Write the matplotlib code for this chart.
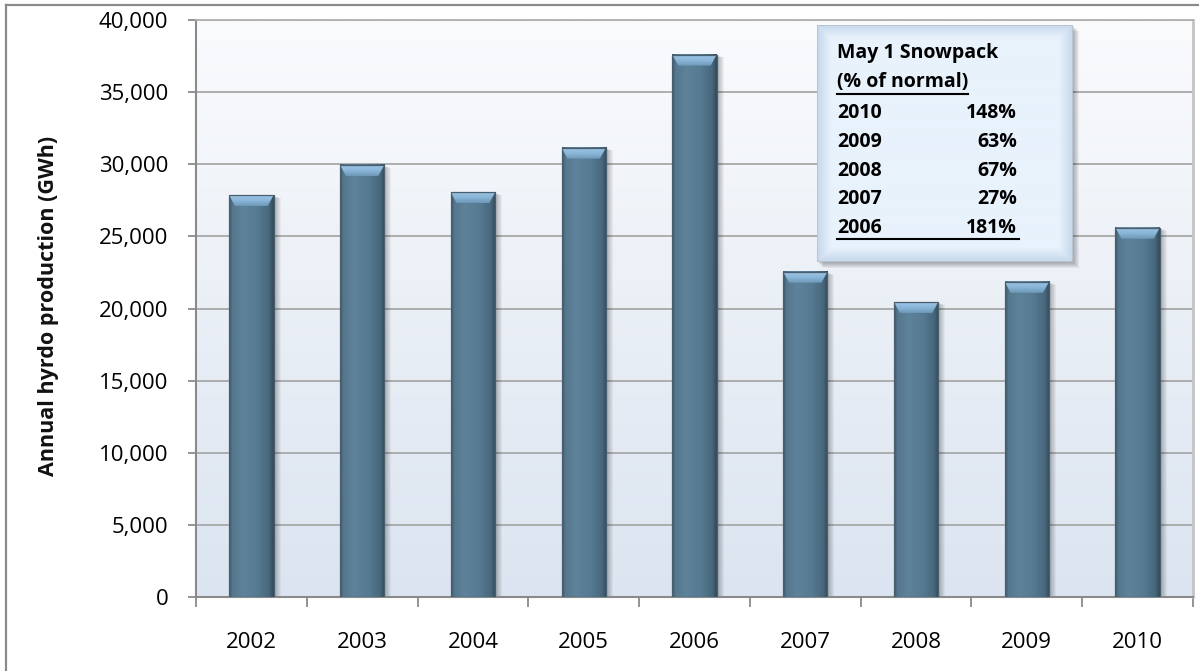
import numpy as np
import matplotlib
matplotlib.use("Agg")
import matplotlib.pyplot as plt
import matplotlib.transforms as mtransforms
from matplotlib.colors import LinearSegmentedColormap
from matplotlib.lines import Line2D
from matplotlib.patches import Rectangle, Polygon
import matplotlib.ticker as mticker

# ---------------------------------------------------------------------------
# Data
# ---------------------------------------------------------------------------
YEARS = ["2002", "2003", "2004", "2005", "2006", "2007", "2008", "2009", "2010"]
PRODUCTION_GWH = [27850, 29950, 28050, 31150, 37600, 22550, 20450, 21850, 25600]

SNOW_TITLE = "May 1 Snowpack"
SNOW_SUBTITLE = "(% of normal)"
SNOW_YEARS = ["2010", "2009", "2008", "2007", "2006"]
SNOW_PCT = ["148%", "63%", "67%", "27%", "181%"]

Y_LABEL = "Annual hyrdo production (GWh)"
FONT = ["Open Sans", "DejaVu Sans"]

# ---------------------------------------------------------------------------
# Figure (pixel-based helpers)
# ---------------------------------------------------------------------------
W, H = 1199, 671
fig = plt.figure(figsize=(W / 100, H / 100), dpi=100)
fig.patch.set_facecolor("white")
plt.rcParams["font.family"] = FONT


def fx(x):
    return x / W


def fy(y):
    return 1 - y / H


# outer chart frame (top and left edges)
for xs, ys in (((6, W), (5, 5)), ((6, 6), (5, H))):
    fig.add_artist(Line2D([fx(v) for v in xs], [fy(v) for v in ys],
                          transform=fig.transFigure, color="#8a8a8a", lw=1.6))

ax = fig.add_axes([fx(196), fy(597), fx(1193) - fx(196), (597 - 20) / H])

# plot-area background: white at top fading to pale blue at the bottom
bg = LinearSegmentedColormap.from_list("bg", ["#dbe4f0", "#fafbfd"])
ax.imshow(np.linspace(0, 1, 256).reshape(-1, 1), cmap=bg, origin="lower",
          extent=[0, 1, 0, 1], transform=ax.transAxes, aspect="auto", zorder=0)

ax.set_xlim(-0.5, len(YEARS) - 0.5)
ax.set_ylim(0, 40000)

ax.yaxis.set_major_locator(mticker.MultipleLocator(5000))
ax.yaxis.set_major_formatter(mticker.StrMethodFormatter("{x:,.0f}"))
ax.yaxis.grid(True, color="#a8a8a8", lw=1.3)
ax.set_axisbelow(True)

ax.set_xticks(np.arange(-0.5, len(YEARS)))
ax.set_xticklabels([])
ax.set_xticks(range(len(YEARS)), minor=True)
ax.set_xticklabels(YEARS, minor=True)

ax.tick_params(axis="y", direction="out", length=6, width=1.3,
               color="#8a8a8a", pad=14, labelsize=16)
ax.tick_params(axis="x", which="major", direction="out", length=7,
               width=1.3, color="#8a8a8a")
ax.tick_params(axis="x", which="minor", length=0, pad=25, labelsize=16)

for side in ("left", "bottom"):
    ax.spines[side].set_color("#8a8a8a")
    ax.spines[side].set_linewidth(1.5)
ax.spines["top"].set_color("#b0b0b0")
ax.spines["top"].set_linewidth(1.3)
ax.spines["right"].set_color("#c4c4c4")
ax.spines["right"].set_linewidth(2)

# ---------------------------------------------------------------------------
# Bars with shading, bevel and soft shadow
# ---------------------------------------------------------------------------
bars = ax.bar(range(len(YEARS)), PRODUCTION_GWH, width=0.4,
              color="none", edgecolor="none", zorder=3)

bar_cmap = LinearSegmentedColormap.from_list(
    "bar", [(0.0, "#3d566a"), (0.07, "#56788f"), (0.3, "#5d8299"),
            (0.65, "#557a91"), (0.9, "#48677c"), (1.0, "#344a5a")])
shade = np.linspace(0, 1, 64).reshape(1, -1)
bevel_cmap = LinearSegmentedColormap.from_list(
    "bevel", ["#6e98b6", "#8ab6d9", "#9cc4e4"])

px_x = (len(YEARS)) / (1193 - 196)      # data units per pixel, x
px_y = 40000 / (597 - 20)               # data units per pixel, y

for p in bars:
    x0, w, h = p.get_x(), p.get_width(), p.get_height()

    for k in range(1, 8):
        off = mtransforms.ScaledTranslation(k / 100, -k * 0.4 / 100,
                                            fig.dpi_scale_trans)
        ax.add_patch(Rectangle((x0, 0), w, h, facecolor="black",
                               alpha=0.045, edgecolor="none",
                               transform=ax.transData + off, zorder=2))

    ax.imshow(shade, cmap=bar_cmap, extent=[x0, x0 + w, 0, h],
              aspect="auto", zorder=3)

    # bevelled top face, lighter towards the top edge
    bev = 11 * px_y
    ins = 6 * px_x
    face = Polygon([(x0, h), (x0 + w, h), (x0 + w - ins, h - bev),
                    (x0 + ins, h - bev)], closed=True,
                   facecolor="none", edgecolor="none", zorder=4)
    ax.add_patch(face)
    im = ax.imshow(np.linspace(0, 1, 32).reshape(-1, 1), cmap=bevel_cmap,
                   origin="lower", extent=[x0, x0 + w, h - bev, h],
                   aspect="auto", zorder=4)
    im.set_clip_path(face)
    ax.add_patch(Rectangle((x0, 0), w, h, facecolor="none",
                           edgecolor="#4a5f6e", lw=0.9, zorder=5))

ax.set_xlim(-0.5, len(YEARS) - 0.5)
ax.set_ylim(0, 40000)

fig.text(fx(49), fy(306), Y_LABEL, rotation=90, ha="center", va="center",
         fontsize=15.5, fontweight="bold", color="#111111")

# ---------------------------------------------------------------------------
# Snowpack inset box
# ---------------------------------------------------------------------------
bx0, by0, bx1, by1 = 817, 25, 1073, 262

for k in range(1, 7):
    fig.add_artist(Rectangle((fx(bx0 + k), fy(by1 + k)), (bx1 - bx0) / W,
                             (by1 - by0) / H, transform=fig.transFigure,
                             facecolor="black", alpha=0.05, edgecolor="none",
                             zorder=1))

bax = fig.add_axes([fx(bx0), fy(by1), (bx1 - bx0) / W, (by1 - by0) / H],
                   zorder=5)
bax.set_axis_off()
gx = np.linspace(0, 1, 256)
gy = np.linspace(0, 1, 240)
dx = np.minimum(gx, 1 - gx) * (bx1 - bx0)
dy = np.minimum(gy, 1 - gy) * (by1 - by0)
dist = np.minimum(dx[None, :], dy[:, None])
box_val = np.clip(dist / 14, 0, 1)
box_cmap = LinearSegmentedColormap.from_list("box", ["#c6d8ec", "#e8f2fc"])
bax.imshow(box_val, cmap=box_cmap, extent=[0, 1, 0, 1], aspect="auto")
bax.add_patch(Rectangle((0, 0), 1, 1, transform=bax.transAxes,
                        facecolor="none", edgecolor="#b5c0cc", lw=1.2))
bax.set_xlim(0, 1)
bax.set_ylim(0, 1)

txt_kw = dict(fontsize=14, fontweight="bold", color="black", va="center",
              zorder=10)
fig.text(fx(837), fy(53), SNOW_TITLE, ha="left", **txt_kw)
sub = fig.text(fx(837), fy(82), SNOW_SUBTITLE, ha="left", **txt_kw)

row_y = 113
for yr, pct in zip(SNOW_YEARS, SNOW_PCT):
    fig.text(fx(837), fy(row_y), yr, ha="left", **txt_kw)
    fig.text(fx(1017), fy(row_y), pct, ha="right", **txt_kw)
    row_y += 28.8

fig.canvas.draw()
sub_right = sub.get_window_extent().x1
fig.add_artist(Line2D([fx(837), sub_right / W], [fy(94), fy(94)],
                      transform=fig.transFigure, color="black", lw=1.5,
                      zorder=10))
fig.add_artist(Line2D([fx(837), fx(1019)], [fy(239), fy(239)],
                      transform=fig.transFigure, color="black", lw=1.5,
                      zorder=10))

fig.savefig("out.png", dpi=100)
